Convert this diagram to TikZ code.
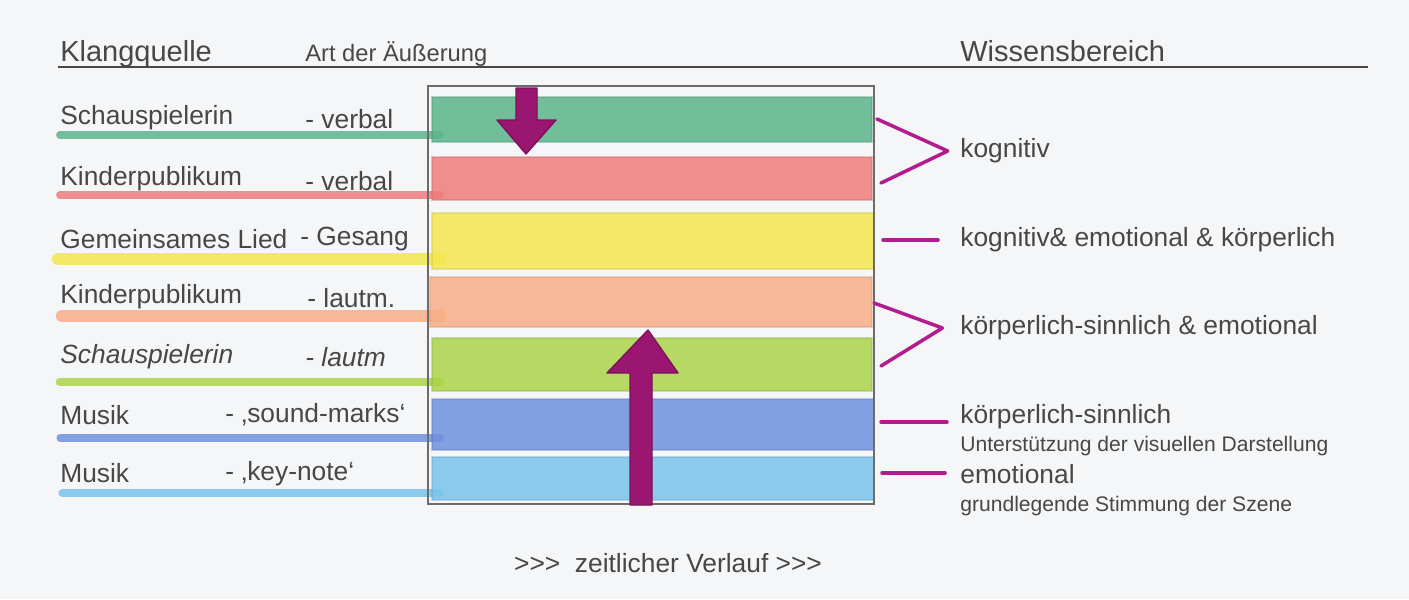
\documentclass[tikz,border=0pt]{standalone}
\usepackage{fontspec}
\setmainfont{Liberation Sans}
\definecolor{paper}{HTML}{F4F6F8}
\definecolor{ink}{HTML}{474747}
\definecolor{cgreen}{HTML}{5DB58A}
\definecolor{cred}{HTML}{EE7C7C}
\definecolor{cyellow}{HTML}{F3E64E}
\definecolor{corange}{HTML}{F7AE85}
\definecolor{clime}{HTML}{ABD448}
\definecolor{cblue}{HTML}{6F90DE}
\definecolor{clblue}{HTML}{79C3EC}
\definecolor{mag}{HTML}{B21C8E}
\definecolor{arr}{HTML}{9A1670}
\tikzset{
  lbl/.style={anchor=west,inner sep=0pt,text=ink,font=\fontsize{15}{18}\selectfont},
  hdr/.style={anchor=base west,inner sep=0pt,text=ink,font=\fontsize{16.5}{20}\selectfont},
  small/.style={anchor=west,inner sep=0pt,text=ink,font=\fontsize{12}{14}\selectfont},
  bar/.style={fill=#1,fill opacity=0.85,draw=#1!85!black,draw opacity=0.4,line width=0.6pt},
  uline/.style={draw=#1,opacity=0.85,line width=4.5pt,line cap=round},
  link/.style={draw=mag,line width=2pt,line cap=round,line join=round},
  bigarrow/.style={fill=arr,draw=arr!80!black,line width=0.8pt,line join=round}
}
\begin{document}
\begin{tikzpicture}[x=0.02cm,y=-0.02cm]
\useasboundingbox (0,0) rectangle (1409,599);
\fill[paper] (0,0) rectangle (1409,599);

% header
\node[hdr] (hk) at (60,61) {Klangquelle};
\node[hdr,font=\fontsize{13.5}{16}\selectfont] (ha) at (305,61) {Art der Äußerung};
\node[hdr] (hw) at (960,61) {Wissensbereich};
\draw[ink,line width=1.1pt] (58,67) -- (1368,67);

% underlines under left labels
\draw[uline=cgreen] (60,135) -- (440,135);
\draw[uline=cred] (60,195) -- (440,195);
\draw[uline=cyellow,line width=7pt] (58,259) -- (440,259);
\draw[uline=corange,line width=7pt] (62,316) -- (440,316);
\draw[uline=clime,line width=5pt] (60,382) -- (440,382);
\draw[uline=cblue,line width=4pt] (60,438) -- (440,438);
\draw[uline=clblue,line width=4pt] (62,493) -- (440,493);

% colour bars
\path[bar=cgreen]  (432,97)  rectangle (872,142);
\path[bar=cred]    (432,157) rectangle (872,200);
\path[bar=cyellow] (432,213) rectangle (874,269);
\path[bar=corange] (430,277) rectangle (872,327);
\path[bar=clime]   (432,338) rectangle (872,391);
\path[bar=cblue]   (432,399) rectangle (874,450);
\path[bar=clblue]  (432,457) rectangle (874,500);

% frame
\draw[ink!80,line width=0.8pt] (428,86) rectangle (874,504);

% arrows
\path[bigarrow] (516,88) -- (537,88) -- (537,120) -- (556,120) -- (526,154) -- (497,120) -- (516,120) -- cycle;
\path[bigarrow] (630,505) -- (652,505) -- (652,373) -- (678,373) -- (648,330) -- (607,373) -- (630,373) -- cycle;

% left labels
\node[lbl] (l1) at (60,118) {Schauspielerin};
\node[lbl] (a1) at (305,119) {- verbal};
\node[lbl] (l2) at (60,179) {Kinderpublikum};
\node[lbl] (a2) at (305,181) {- verbal};
\node[lbl] (l3) at (60,239) {Gemeinsames Lied};
\node[lbl] (a3) at (300,239) {- Gesang};
\node[lbl] (l4) at (60,297) {Kinderpublikum};
\node[lbl] (a4) at (307,298) {- lautm.};
\node[lbl,font=\fontsize{15}{18}\selectfont\itshape] (l5) at (60,357) {Schauspielerin};
\node[lbl,font=\fontsize{15}{18}\selectfont\itshape] (a5) at (305,357) {- lautm};
\node[lbl] (l6) at (60,415) {Musik};
\node[lbl] (a6) at (225,415) {- ‚sound-marks‘};
\node[lbl] (l7) at (60,473) {Musik};
\node[lbl] (a7) at (225,474) {- ‚key-note‘};

% right labels
\node[lbl] (r1) at (960,151) {kognitiv};
\node[lbl] (r2) at (960,240) {kognitiv\& emotional \& körperlich};
\node[lbl] (r3) at (960,328) {körperlich-sinnlich \& emotional};
\node[lbl] (r4) at (960,417) {körperlich-sinnlich};
\node[small] (r4b) at (960,446) {Unterstützung der visuellen Darstellung};
\node[lbl] (r5) at (960,474) {emotional};
\node[small] (r5b) at (960,506) {grundlegende Stimmung der Szene};

% connectors
\coordinate (k1) at (877,119);
\coordinate (k2) at (881,183);
\coordinate (y1) at (883,240);
\coordinate (o1) at (874,303);
\coordinate (g1) at (881,366);
\coordinate (b1) at (881,422);
\coordinate (c1) at (882,473);
\draw[link] (k1) -- ([xshift=-7pt] r1.west) -- (k2);
\draw[link] (y1) -- ([xshift=-12.5pt] r2.west |- y1);
\draw[link] (o1) -- ([xshift=-10pt] r3.west) -- (g1);
\draw[link] (b1) -- ([xshift=-7.4pt] r4.west |- b1);
\draw[link] (c1) -- ([xshift=-8.5pt] r5.west |- c1);

% bottom caption
\node[lbl,anchor=center] (t) at (668,563) {{>}{>}{>}\ \ zeitlicher Verlauf {>}{>}{>}};
\end{tikzpicture}
\end{document}
